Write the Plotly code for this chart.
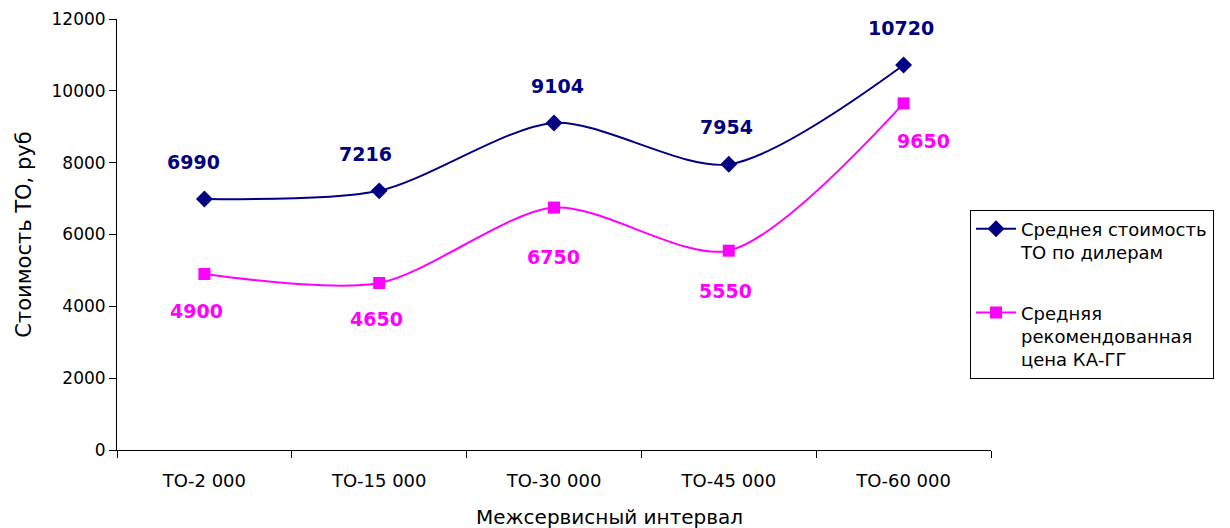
import plotly.graph_objects as go

categories = ["ТО-2 000", "ТО-15 000", "ТО-30 000", "ТО-45 000", "ТО-60 000"]
dealer_avg = [6990, 7216, 9104, 7954, 10720]
recommended = [4900, 4650, 6750, 5550, 9650]
y_ticks = [0, 2000, 4000, 6000, 8000, 10000, 12000]

NAVY = "#000080"
PINK = "#FF00FF"
FONT = "DejaVu Sans"

fig = go.Figure()
fig.add_trace(go.Scatter(
    x=categories, y=dealer_avg, mode="lines+markers",
    name="Среднея стоимость<br>ТО по дилерам", legendgroup="a",
    line=dict(color=NAVY, width=2, shape="spline", smoothing=0.8),
    marker=dict(symbol="diamond", size=13, color=NAVY),
))
fig.add_trace(go.Scatter(
    x=categories, y=recommended, mode="lines+markers",
    name="Средняя<br>рекомендованная<br>цена КА-ГГ", legendgroup="b",
    line=dict(color=PINK, width=2, shape="spline", smoothing=0.8),
    marker=dict(symbol="square", size=12, color=PINK),
))

# data labels
dealer_dx = [-11, -14, 3, -2, -3]
for i, (c, v) in enumerate(zip(categories, dealer_avg)):
    fig.add_annotation(x=c, y=v, text=f"<b>{v}</b>", showarrow=False,
                       yshift=37, xshift=dealer_dx[i],
                       font=dict(family=FONT, size=19, color=NAVY))
rec_dx = [-8, -3, -1, -3, 20]
rec_dy = [-37, -36, -49, -40, -38]
for i, (c, v) in enumerate(zip(categories, recommended)):
    fig.add_annotation(x=c, y=v, text=f"<b>{v}</b>", showarrow=False,
                       yshift=rec_dy[i], xshift=rec_dx[i],
                       font=dict(family=FONT, size=19, color=PINK))

# x-axis title (placed off-centre as in the original)
fig.add_annotation(xref="paper", yref="paper", x=0.563, y=0, yshift=-67,
                   text="Межсервисный интервал", showarrow=False,
                   xanchor="center", yanchor="middle",
                   font=dict(family=FONT, size=20, color="black"))

fig.update_layout(
    width=1222, height=520,
    margin=dict(l=109, r=239, t=11, b=78, autoexpand=False),
    plot_bgcolor="white", paper_bgcolor="white",
    font=dict(family=FONT, size=16, color="black"),
    showlegend=True,
    legend=dict(
        x=0.976, y=0.558, xanchor="left", yanchor="top",
        bordercolor="#000000", borderwidth=1,
        font=dict(family=FONT, size=18, color="black"),
        tracegroupgap=34, itemwidth=40, valign="top",
    ),
)
fig.update_xaxes(
    type="category", range=[-0.5, 4.5], automargin=False,
    showline=True, linecolor="black", linewidth=1,
    ticks="outside", tickson="boundaries", ticklen=7, tickcolor="black",
    showgrid=False, zeroline=False,
    tickfont=dict(family=FONT, size=18), ticklabelstandoff=14,
)
fig.update_yaxes(
    range=[0, 12000], tickvals=y_ticks, tickformat="d", automargin=False,
    showline=True, linecolor="black", linewidth=1,
    ticks="outside", ticklen=7, tickcolor="black",
    showgrid=False, zeroline=False,
    tickfont=dict(family=FONT, size=17),
    title=dict(text="Стоимость ТО, руб", font=dict(family=FONT, size=21), standoff=14),
)

fig.write_html("out.html")
